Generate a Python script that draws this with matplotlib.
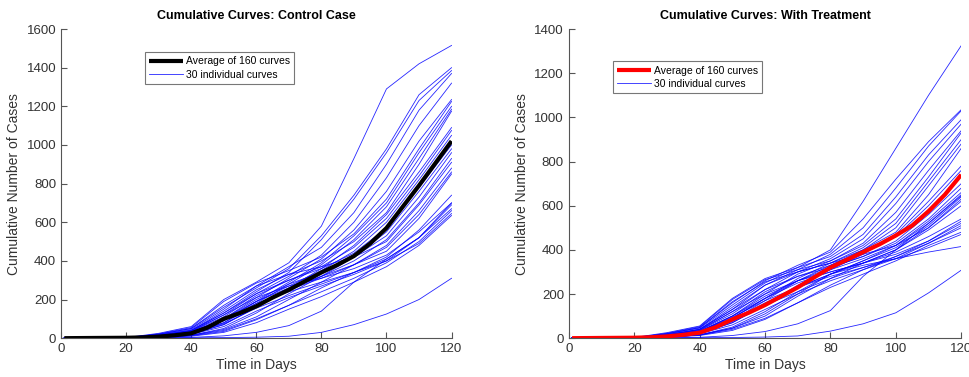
import matplotlib
matplotlib.use('Agg')
import matplotlib.pyplot as plt

plt.rcParams['font.family'] = ['Liberation Sans', 'DejaVu Sans']

# sample days for the individual curves
days = [1, 20, 30, 40, 50, 60, 70, 80, 90, 100, 110, 120]
# finer sample days for the average curves
mean_days = [1, 10, 20, 25, 30, 35, 40, 45, 50, 55, 60, 65, 70, 75, 80,
             85, 90, 95, 100, 105, 110, 115, 120]

# control case: 30 individual curves
control_curves = [
    [0, 3, 25, 60, 200, 290, 390, 580, 930, 1290, 1420, 1515],
    [0, 2, 20, 50, 160, 260, 360, 530, 740, 980, 1260, 1400],
    [0, 2, 15, 40, 130, 240, 340, 510, 720, 960, 1230, 1385],
    [0, 2, 18, 45, 150, 270, 370, 470, 650, 900, 1180, 1370],
    [0, 2, 12, 35, 120, 230, 320, 430, 600, 830, 1100, 1320],
    [0, 2, 10, 30, 100, 210, 310, 410, 560, 760, 1020, 1235],
    [0, 2, 22, 55, 190, 285, 350, 420, 540, 720, 980, 1225],
    [0, 2, 12, 30, 90, 190, 290, 390, 530, 700, 960, 1200],
    [0, 2, 8, 25, 80, 180, 280, 380, 510, 680, 930, 1185],
    [0, 2, 15, 40, 140, 250, 330, 400, 500, 650, 900, 1175],
    [0, 2, 6, 20, 70, 160, 260, 360, 480, 640, 860, 1090],
    [0, 2, 12, 35, 110, 220, 300, 370, 470, 620, 840, 1075],
    [0, 2, 10, 28, 90, 190, 270, 350, 450, 600, 820, 1050],
    [0, 2, 14, 40, 130, 230, 300, 360, 440, 570, 780, 1000],
    [0, 2, 6, 15, 50, 130, 230, 320, 420, 550, 760, 980],
    [0, 2, 10, 30, 100, 200, 280, 340, 420, 530, 730, 960],
    [0, 2, 8, 22, 70, 160, 250, 320, 400, 510, 700, 930],
    [0, 2, 20, 50, 170, 270, 330, 370, 420, 500, 690, 910],
    [0, 2, 5, 15, 45, 110, 200, 290, 380, 480, 660, 880],
    [0, 2, 9, 25, 80, 170, 250, 310, 380, 470, 640, 860],
    [0, 2, 12, 32, 100, 190, 260, 320, 380, 450, 620, 850],
    [0, 2, 4, 12, 35, 95, 170, 260, 340, 420, 560, 740],
    [0, 2, 14, 38, 120, 210, 270, 310, 360, 430, 550, 700],
    [0, 2, 7, 20, 60, 140, 210, 270, 330, 400, 520, 690],
    [0, 2, 9, 25, 75, 155, 220, 280, 340, 410, 520, 670],
    [0, 2, 5, 14, 40, 100, 170, 240, 310, 390, 500, 660],
    [0, 2, 10, 30, 95, 180, 240, 290, 340, 400, 490, 645],
    [0, 2, 4, 10, 30, 80, 150, 215, 290, 370, 480, 635],
    [0, 0, 2, 4, 12, 30, 65, 140, 290, 410, 520, 700],
    [0, 0, 1, 2, 3, 5, 10, 30, 70, 125, 200, 310],
]
control_mean = [0, 1, 2, 4, 8, 15, 25, 55, 100, 130, 165, 210, 250, 295, 340,
                380, 425, 490, 570, 680, 790, 905, 1020]

# with treatment: 30 individual curves
treatment_curves = [
    [0, 3, 25, 55, 180, 270, 320, 400, 620, 860, 1100, 1325],
    [0, 2, 20, 48, 160, 260, 330, 390, 540, 720, 890, 1035],
    [0, 2, 15, 40, 130, 240, 310, 380, 500, 680, 870, 1030],
    [0, 2, 18, 45, 150, 250, 320, 370, 470, 640, 830, 990],
    [0, 2, 12, 35, 120, 220, 300, 360, 450, 610, 800, 970],
    [0, 2, 10, 30, 100, 200, 290, 350, 430, 570, 760, 940],
    [0, 2, 22, 52, 175, 265, 310, 350, 420, 540, 730, 930],
    [0, 2, 12, 30, 90, 180, 270, 340, 410, 520, 710, 900],
    [0, 2, 8, 25, 80, 170, 260, 330, 400, 500, 690, 880],
    [0, 2, 15, 40, 140, 240, 300, 340, 400, 480, 650, 860],
    [0, 2, 6, 20, 70, 150, 240, 310, 380, 470, 620, 780],
    [0, 2, 12, 35, 110, 210, 280, 330, 390, 460, 600, 760],
    [0, 2, 10, 28, 90, 180, 260, 320, 370, 440, 560, 700],
    [0, 2, 14, 40, 130, 220, 280, 320, 370, 430, 540, 680],
    [0, 2, 6, 15, 50, 120, 210, 290, 350, 420, 530, 660],
    [0, 2, 10, 30, 100, 190, 260, 310, 360, 420, 520, 645],
    [0, 2, 8, 22, 70, 150, 230, 290, 350, 410, 510, 640],
    [0, 2, 20, 48, 165, 255, 300, 340, 380, 420, 500, 630],
    [0, 2, 5, 15, 45, 100, 190, 270, 340, 400, 500, 620],
    [0, 2, 9, 25, 80, 160, 230, 290, 340, 400, 490, 600],
    [0, 2, 12, 32, 100, 180, 250, 300, 340, 390, 460, 540],
    [0, 2, 4, 12, 35, 85, 160, 240, 310, 370, 440, 530],
    [0, 2, 14, 38, 120, 200, 260, 300, 340, 380, 440, 520],
    [0, 2, 7, 20, 60, 130, 200, 260, 310, 360, 430, 510],
    [0, 2, 9, 25, 75, 150, 210, 270, 320, 370, 430, 500],
    [0, 2, 5, 14, 40, 90, 160, 230, 290, 350, 420, 480],
    [0, 2, 10, 30, 95, 170, 230, 280, 320, 360, 410, 470],
    [0, 2, 5, 14, 45, 110, 200, 290, 330, 360, 390, 415],
    [0, 0, 2, 4, 12, 30, 65, 125, 280, 400, 520, 650],
    [0, 0, 1, 2, 3, 5, 10, 32, 65, 115, 205, 308],
]
treatment_mean = [0, 1, 2, 4, 8, 15, 25, 50, 85, 115, 150, 190, 230, 275, 320,
                  355, 390, 425, 465, 510, 575, 650, 740]

panels = [
    ('Cumulative Curves: Control Case', control_curves, control_mean, 'black',
     [0, 1600], [0.063, 0.103, 0.403, 0.820], (0.215, 0.925)),
    ('Cumulative Curves: With Treatment', treatment_curves, treatment_mean, 'red',
     [0, 1400], [0.587, 0.103, 0.405, 0.820], (0.113, 0.895)),
]

fig = plt.figure(figsize=(9.69, 3.77), dpi=100)
axis_grey = '#555555'

for title, curves, mean, mean_color, ylim, rect, leg_pos in panels:
    ax = fig.add_axes(rect)
    for i, c in enumerate(curves):
        ax.plot(days, c, color='#0000ff', linewidth=0.6, alpha=0.85,
                label='30 individual curves' if i == 0 else None)
    ax.plot(mean_days, mean, color=mean_color, linewidth=3,
            label='Average of 160 curves', solid_capstyle='butt')

    ax.set_xlim(0, 120)
    ax.set_ylim(*ylim)
    ax.set_xticks(range(0, 121, 20))
    ax.set_yticks(range(ylim[0], ylim[1] + 1, 200))
    ax.spines['top'].set_visible(False)
    ax.spines['right'].set_visible(False)
    for s in ('left', 'bottom'):
        ax.spines[s].set_color(axis_grey)
        ax.spines[s].set_linewidth(0.8)
    ax.tick_params(direction='in', length=4, width=0.8, colors=axis_grey,
                   labelcolor='#333333', labelsize=9.5)
    ax.set_xlabel('Time in Days', fontsize=10, color='#333333', labelpad=2)
    ax.set_ylabel('Cumulative Number of Cases', fontsize=10, color='#333333')
    ax.set_title(title, fontsize=9, fontweight='bold', pad=7)

    handles, labels = ax.get_legend_handles_labels()
    leg = ax.legend(handles[::-1], labels[::-1], loc='upper left',
                    bbox_to_anchor=leg_pos, fontsize=7.5, fancybox=False,
                    framealpha=1, edgecolor='#777777', borderpad=0.4,
                    handlelength=3.2, handletextpad=0.3, labelspacing=0.3,
                    borderaxespad=0)
    leg.get_frame().set_linewidth(0.8)

fig.savefig('out.png', dpi=100)
